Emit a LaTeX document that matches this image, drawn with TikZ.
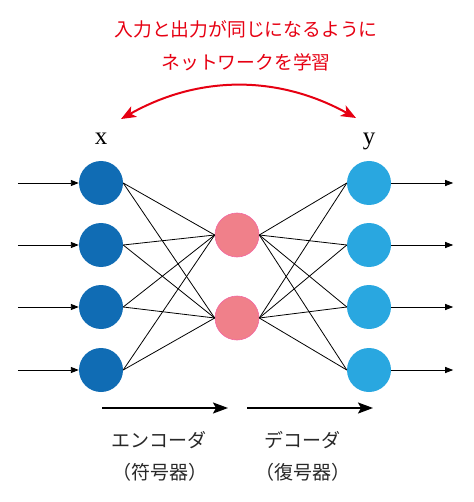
\documentclass[tikz,border=0pt]{standalone}
\usepackage{fontspec}
\newfontfamily\jp{Noto Sans CJK JP}
\newfontfamily\serifx{Liberation Serif}
\usetikzlibrary{arrows.meta,calc}
\definecolor{encblue}{RGB}{16,108,180}
\definecolor{midpink}{RGB}{240,128,138}
\definecolor{decblue}{RGB}{41,167,224}
\definecolor{redarrow}{RGB}{230,0,18}
\definecolor{txtgray}{RGB}{40,40,40}
\tikzset{
  unit/.style={circle, minimum size=44pt, inner sep=0pt},
  inunit/.style={unit, fill=encblue},
  hidunit/.style={unit, fill=midpink, draw=midpink!80!magenta, line width=0.6pt},
  outunit/.style={unit, fill=decblue},
  wire/.style={black, line width=0.8pt},
  ioarrow/.style={black, line width=0.9pt, -{Triangle[length=8pt,width=6pt]}},
  bigarrow/.style={black, line width=2pt, -{Stealth[length=15pt,width=11pt,inset=3pt]}},
  redarc/.style={redarrow, line width=2pt, {Stealth[length=15pt,width=12pt,inset=4pt]}-{Stealth[length=15pt,width=12pt,inset=4pt]}},
  jplabel/.style={font=\jp\fontsize{19}{22}\selectfont, text=txtgray, inner sep=0pt},
  redlabel/.style={font=\jp\fontsize{18.8}{22}\selectfont, text=redarrow, inner sep=0pt},
  varlabel/.style={font=\serifx\fontsize{25}{28}\selectfont, inner sep=0pt, anchor=base}
}
\begin{document}
\begin{tikzpicture}[x=1pt,y=-1pt]
\useasboundingbox (0,0) rectangle (473,502);
% text
\node[redlabel] (t1) at (246,29) {入力と出力が同じになるように};
\node[redlabel] (t2) at (246,62) {ネットワークを学習};
\node[varlabel] (lx) at (101,145) {x};
\node[varlabel] (ly) at (369,145) {y};
% red arc
\coordinate (ra) at (121,119);
\coordinate (rb) at (356,118);
\draw[redarc] (ra) .. controls (199,75) and (278,75) .. (rb);
% nodes
\node[inunit] (i1) at (101,183) {};
\node[inunit] (i2) at (101,245) {};
\node[inunit] (i3) at (101,307) {};
\node[inunit] (i4) at (101,370) {};
\node[hidunit] (h1) at (237,235) {};
\node[hidunit] (h2) at (237,318) {};
\node[outunit] (o1) at (369,183) {};
\node[outunit] (o2) at (369,245) {};
\node[outunit] (o3) at (369,307) {};
\node[outunit] (o4) at (369,370) {};
% wires
\foreach \i in {1,2,3,4}{
  \foreach \h in {1,2}{
    \draw[wire] (i\i.east) -- (h\h.west);
    \draw[wire] (h\h.east) -- (o\i.west);
  }
}
% input / output arrows
\foreach \i in {1,2,3,4}{
  \coordinate (s\i) at ($(i\i.west)+(-61,0)$);
  \coordinate (e\i) at ($(o\i.east)+(62,0)$);
  \draw[ioarrow] (s\i) -- (i\i.west);
  \draw[ioarrow] (o\i.east) -- (e\i);
}
% bottom arrows
\coordinate (ea) at (102,408);
\coordinate (eb) at (228,408);
\coordinate (da) at (247,408);
\coordinate (db) at (373,408);
\draw[bigarrow] (ea) -- (eb);
\draw[bigarrow] (da) -- (db);
\node[jplabel] (enc) at (159,440) {エンコーダ};
\node[jplabel] (encp) at (160,472) {（符号器）};
\node[jplabel] (dec) at (302,440) {デコーダ};
\node[jplabel] (decp) at (303,472) {（復号器）};
\end{tikzpicture}
\end{document}
